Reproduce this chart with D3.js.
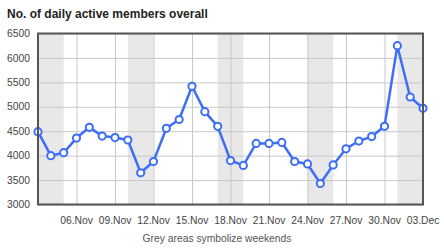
<!DOCTYPE html>
<html>
<head>
<meta charset="utf-8">
<script src="https://cdn.jsdelivr.net/npm/d3@7"></script>
<style>
  body { margin: 0; background: #fff; }
  text { font-family: "Liberation Sans", Arial, sans-serif; }
</style>
</head>
<body>
<div id="figure"></div>
<script>
const days = ["2012-11-03","2012-11-04","2012-11-05","2012-11-06","2012-11-07","2012-11-08",
  "2012-11-09","2012-11-10","2012-11-11","2012-11-12","2012-11-13","2012-11-14","2012-11-15",
  "2012-11-16","2012-11-17","2012-11-18","2012-11-19","2012-11-20","2012-11-21","2012-11-22",
  "2012-11-23","2012-11-24","2012-11-25","2012-11-26","2012-11-27","2012-11-28","2012-11-29",
  "2012-11-30","2012-12-01","2012-12-02","2012-12-03"];
const members = [4490, 4000, 4060, 4360, 4580, 4400, 4370, 4320, 3650, 3880, 4560, 4740, 5420,
  4900, 4600, 3900, 3800, 4250, 4250, 4270, 3880, 3830, 3430, 3810, 4140, 4300, 4390, 4600,
  6250, 5200, 4970];
const weekends = [["2012-11-03","2012-11-05"], ["2012-11-10","2012-11-12"], ["2012-11-17","2012-11-19"],
  ["2012-11-24","2012-11-26"], ["2012-12-01","2012-12-03"]];
const xTicks = ["2012-11-06","2012-11-09","2012-11-12","2012-11-15","2012-11-18","2012-11-21",
  "2012-11-24","2012-11-27","2012-11-30","2012-12-03"];
const yTicks = [3000, 3500, 4000, 4500, 5000, 5500, 6000, 6500];

const parse = d3.utcParse("%Y-%m-%d");
const data = days.map((d, i) => ({ date: parse(d), y: members[i] }));

const W = 444, H = 249;
const margin = { left: 38, right: 20, top: 33.5, bottom: 44.5 };

const svg = d3.select("#figure").append("svg")
  .attr("width", W).attr("height", H);

const x = d3.scaleUtc()
  .domain([parse(days[0]), parse(days[days.length - 1])])
  .range([margin.left, W - margin.right - 1]);
const y = d3.scaleLinear()
  .domain([3000, 6500])
  .range([H - margin.bottom, margin.top]);

// weekend bands
svg.append("g").selectAll("rect")
  .data(weekends)
  .join("rect")
  .attr("x", d => x(parse(d[0])))
  .attr("width", d => x(parse(d[1])) - x(parse(d[0])))
  .attr("y", y(6500))
  .attr("height", y(3000) - y(6500))
  .attr("fill", "#e8e8e8");

// grid
svg.append("g")
  .attr("transform", "translate(" + margin.left + ",0)")
  .call(d3.axisLeft(y).tickValues(yTicks).tickSize(-(x.range()[1] - x.range()[0])).tickFormat(""))
  .call(g => g.select(".domain").remove())
  .call(g => g.selectAll("line").attr("stroke", "#c8c8c8"));

svg.append("g")
  .attr("transform", "translate(0," + y(3000) + ")")
  .call(d3.axisBottom(x).tickValues(xTicks.map(parse)).tickSize(-(y(3000) - y(6500))).tickFormat(""))
  .call(g => g.select(".domain").remove())
  .call(g => g.selectAll("line").attr("stroke", "#c8c8c8"));

// tick labels
svg.append("g").selectAll("text")
  .data(yTicks)
  .join("text")
  .attr("x", 30)
  .attr("y", d => y(d) + 3.6)
  .attr("text-anchor", "end")
  .attr("font-size", "10.3px")
  .attr("fill", "#444")
  .text(d => d);

const fmt = d3.utcFormat("%d.%b");
svg.append("g").selectAll("text")
  .data(xTicks)
  .join("text")
  .attr("x", d => x(parse(d)))
  .attr("y", 224)
  .attr("text-anchor", "middle")
  .attr("font-size", "10.3px")
  .attr("fill", "#444")
  .text(d => fmt(parse(d)));

// line and points
const line = d3.line().x(d => x(d.date)).y(d => y(d.y));
svg.append("path")
  .datum(data)
  .attr("d", line)
  .attr("fill", "none")
  .attr("stroke", "#3d6ef5")
  .attr("stroke-width", 2.5)
  .attr("stroke-linejoin", "round");

svg.append("g").selectAll("circle")
  .data(data)
  .join("circle")
  .attr("cx", d => x(d.date))
  .attr("cy", d => y(d.y))
  .attr("r", 3.6)
  .attr("fill", "#fff")
  .attr("stroke", "#3d6ef5")
  .attr("stroke-width", 2);

// frame
svg.append("rect")
  .attr("x", x.range()[0])
  .attr("y", y(6500))
  .attr("width", x.range()[1] - x.range()[0])
  .attr("height", y(3000) - y(6500))
  .attr("fill", "none")
  .attr("stroke", "#555")
  .attr("stroke-width", 2);

// title and caption
svg.append("text")
  .attr("x", 7).attr("y", 18)
  .attr("font-size", "12px")
  .attr("font-weight", "bold")
  .attr("fill", "#222")
  .text("No. of daily active members overall");

svg.append("text")
  .attr("x", 217).attr("y", 242)
  .attr("text-anchor", "middle")
  .attr("font-size", "10.3px")
  .attr("fill", "#555")
  .text("Grey areas symbolize weekends");
</script>
</body>
</html>
